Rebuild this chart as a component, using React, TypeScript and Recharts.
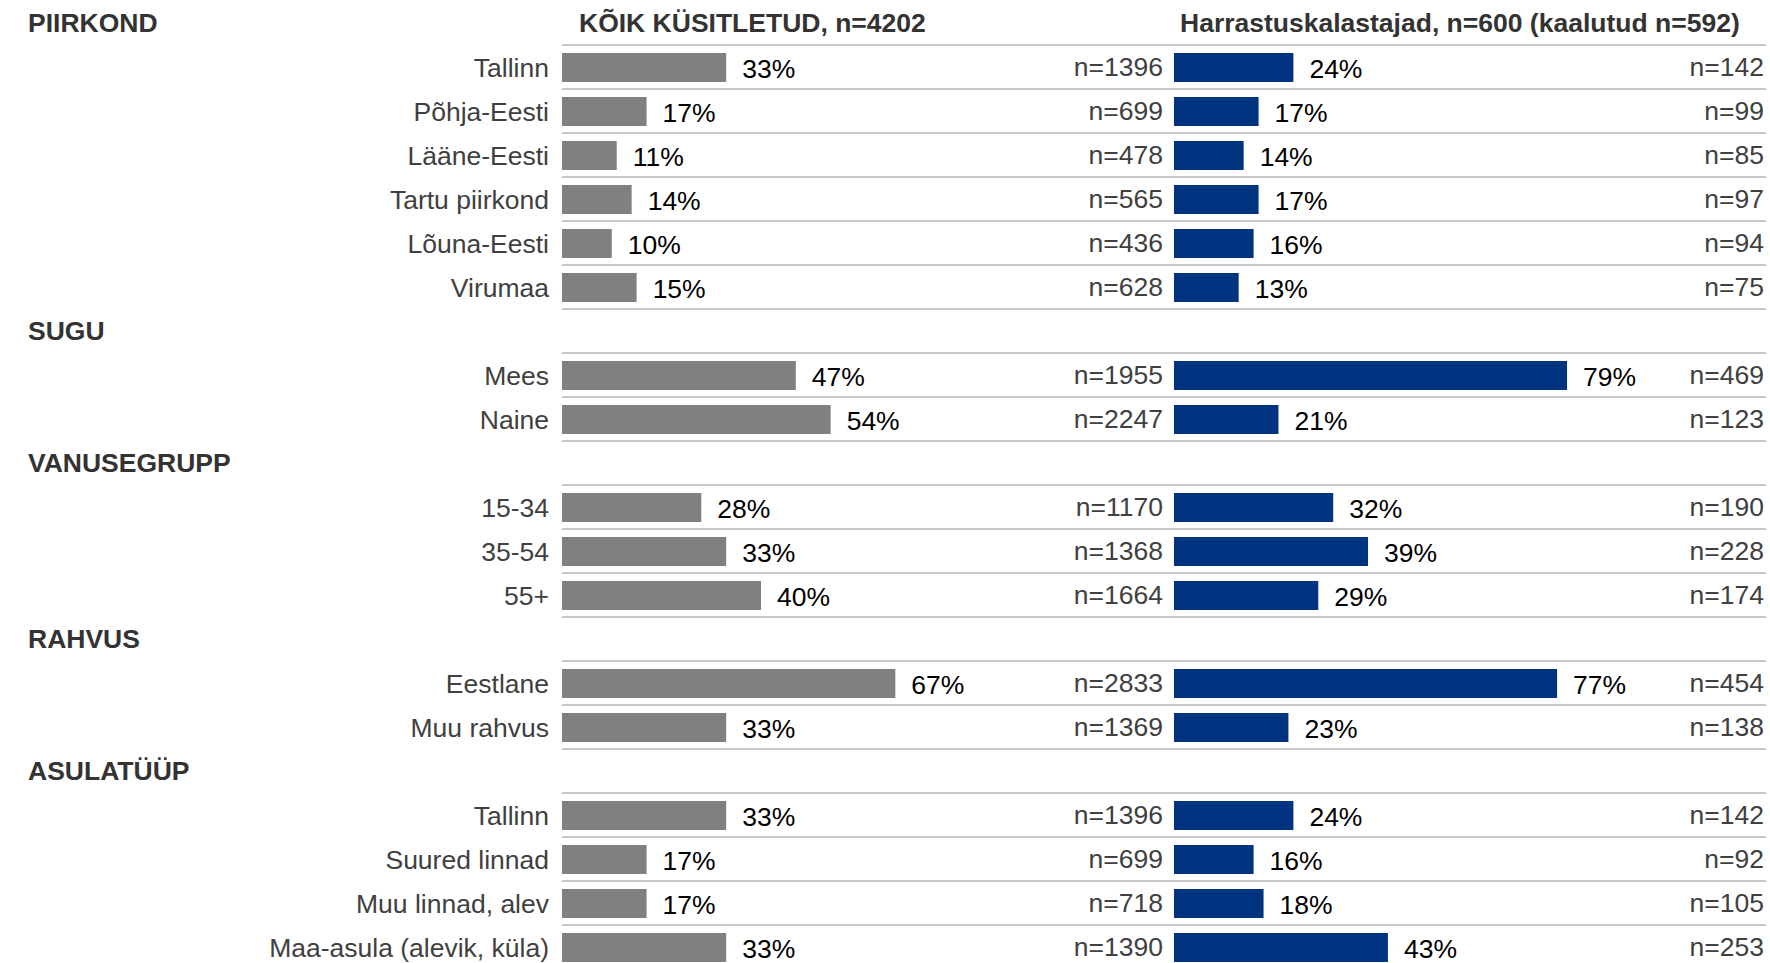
import React from 'react';
import { BarChart, Bar, XAxis, YAxis, CartesianGrid, LabelList } from 'recharts';

// ---- data ----
const categories = [
  'PIIRKOND', 'Tallinn', 'Põhja-Eesti', 'Lääne-Eesti', 'Tartu piirkond', 'Lõuna-Eesti', 'Virumaa',
  'SUGU', 'Mees', 'Naine',
  'VANUSEGRUPP', '15-34', '35-54', '55+',
  'RAHVUS', 'Eestlane', 'Muu rahvus',
  'ASULATÜÜP', 'Tallinn', 'Suured linnad', 'Muu linnad, alev', 'Maa-asula (alevik, küla)',
];
const headerRows = ['PIIRKOND', 'SUGU', 'VANUSEGRUPP', 'RAHVUS', 'ASULATÜÜP'];
const allPct = [null, 33, 17, 11, 14, 10, 15, null, 47, 54, null, 28, 33, 40, null, 67, 33, null, 33, 17, 17, 33];
const allN = [null, 1396, 699, 478, 565, 436, 628, null, 1955, 2247, null, 1170, 1368, 1664, null, 2833, 1369, null, 1396, 699, 718, 1390];
const fishPct = [null, 24, 17, 14, 17, 16, 13, null, 79, 21, null, 32, 39, 29, null, 77, 23, null, 24, 16, 18, 43];
const fishN = [null, 142, 99, 85, 97, 94, 75, null, 469, 123, null, 190, 228, 174, null, 454, 138, null, 142, 92, 105, 253];
const titleAll = 'KÕIK KÜSITLETUD, n=4202';
const titleFish = 'Harrastuskalastajad, n=600 (kaalutud n=592)';

const data = categories.map((label, i) => ({
  label,
  header: headerRows.includes(label) && allPct[i] == null,
  all: allPct[i],
  allN: allN[i],
  fish: fishPct[i],
  fishN: fishN[i],
}));

// ---- layout ----
const W = 1770;
const H = 969;
const TOP = 1;
const RIGHT_M = 4;
const AXIS_W = 562;
const BAND = (H - TOP) / categories.length;
const PLOT_W = W - AXIS_W - RIGHT_M;
const PX_PER_PCT = 4.975;
const FISH_ZERO = 612; // px from plot left where the second column starts
const allDomain = [0, PLOT_W / PX_PER_PCT];
const fishDomain = [-FISH_ZERO / PX_PER_PCT, (PLOT_W - FISH_ZERO) / PX_PER_PCT];
const N_ALL_RIGHT = AXIS_W + FISH_ZERO - 11;
const N_FISH_RIGHT = W - 6;
const gridPoints = categories.map((_, i) => TOP + (i + 1) * BAND);

const FONT = '"Liberation Sans", Arial, Helvetica, sans-serif';
const FS = 26.5;

const CategoryTick = (props: any) => {
  const { y, index } = props;
  const row = data[index];
  if (!row) return null;
  if (row.header) {
    return (
      <g>
        <text x={28} y={y} dominantBaseline="central" fontFamily={FONT} fontSize={FS} fontWeight="bold" fill="#333333">
          {row.label}
        </text>
        {index === 0 && (
          <>
            <text x={579} y={y} dominantBaseline="central" fontFamily={FONT} fontSize={FS} fontWeight="bold" fill="#333333">
              {titleAll}
            </text>
            <text x={1180} y={y} dominantBaseline="central" fontFamily={FONT} fontSize={FS} fontWeight="bold" fill="#333333">
              {titleFish}
            </text>
          </>
        )}
      </g>
    );
  }
  return (
    <text x={AXIS_W - 13} y={y + 1} textAnchor="end" dominantBaseline="central" fontFamily={FONT} fontSize={FS} fill="#404040">
      {row.label}
    </text>
  );
};

const getBox = (props: any) => {
  const vb = props.viewBox || props;
  return { x: Number(vb.x), y: Number(vb.y), width: Number(vb.width), height: Number(vb.height) };
};

const PctLabel = (props: any) => {
  if (props.value == null) return null;
  const b = getBox(props);
  return (
    <text x={b.x + b.width + 16} y={b.y + b.height / 2 + 1.5} dominantBaseline="central" fontFamily={FONT} fontSize={FS} fill="#000000">
      {`${props.value}%`}
    </text>
  );
};

const makeNLabel = (right: number) => (props: any) => {
  if (props.value == null) return null;
  const b = getBox(props);
  return (
    <text x={right} y={b.y + b.height / 2 - 0.5} textAnchor="end" dominantBaseline="central" fontFamily={FONT} fontSize={FS} fill="#404040">
      {`n=${props.value}`}
    </text>
  );
};
const NAllLabel = makeNLabel(N_ALL_RIGHT);
const NFishLabel = makeNLabel(N_FISH_RIGHT);

export default function App() {
  return (
    <div style={{ position: 'absolute', left: 0, top: 0, width: W, height: 963, overflow: 'hidden', background: '#ffffff' }}>
      <BarChart
        width={W}
        height={H}
        data={data}
        layout="vertical"
        margin={{ top: TOP, right: RIGHT_M, bottom: 0, left: 0 }}
      >
        <CartesianGrid
          xAxisId="all"
          yAxisId="a"
          vertical={false}
          horizontal
          horizontalPoints={gridPoints}
          stroke="#c8c8c8"
          strokeWidth={2}
        />
        <XAxis xAxisId="all" type="number" domain={allDomain} allowDataOverflow hide />
        <XAxis xAxisId="fish" type="number" domain={fishDomain} allowDataOverflow hide />
        <YAxis
          yAxisId="a"
          type="category"
          dataKey="label"
          width={AXIS_W}
          interval={0}
          axisLine={false}
          tickLine={false}
          tick={<CategoryTick />}
        />
        <YAxis yAxisId="b" type="category" dataKey="label" hide interval={0} />
        <Bar dataKey="all" xAxisId="all" yAxisId="a" fill="#808080" barSize={29} isAnimationActive={false}>
          <LabelList dataKey="all" content={PctLabel} />
          <LabelList dataKey="allN" content={NAllLabel} />
        </Bar>
        <Bar dataKey="fish" xAxisId="fish" yAxisId="b" fill="#003380" barSize={29} isAnimationActive={false}>
          <LabelList dataKey="fish" content={PctLabel} />
          <LabelList dataKey="fishN" content={NFishLabel} />
        </Bar>
      </BarChart>
    </div>
  );
}
